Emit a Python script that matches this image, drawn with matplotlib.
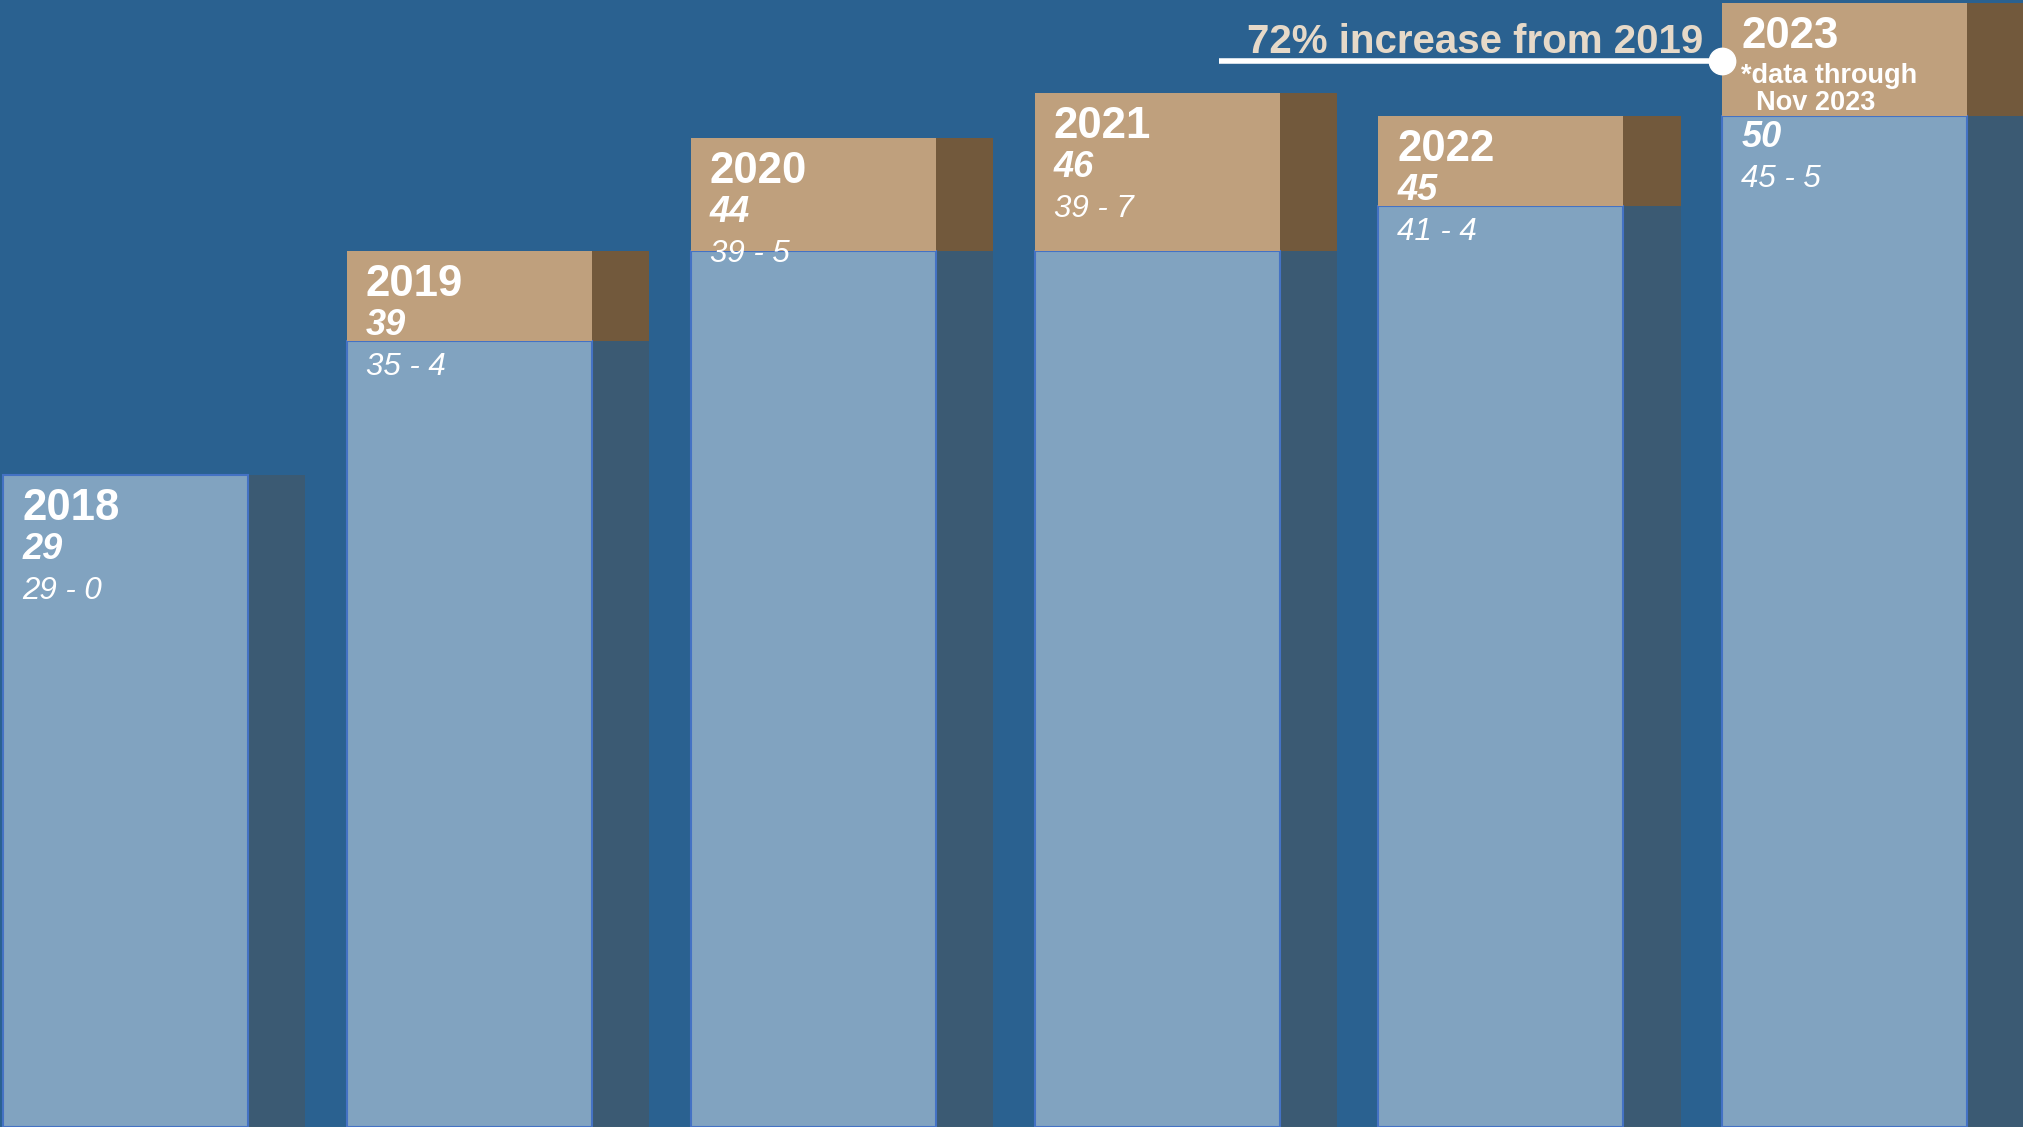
import numpy as np
import matplotlib
matplotlib.use("Agg")
from matplotlib import pyplot as plt

years = ["2018", "2019", "2020", "2021", "2022", "2023"]
base = [29, 35, 39, 39, 41, 45]      # light blue part
added = [0, 4, 5, 7, 4, 5]           # tan part
totals = [29, 39, 44, 46, 45, 50]
notes = [[], [], [], [], [], ["*data through", "  Nov 2023"]]
callout = "72% increase from 2019"

bg = "#2A6190"
light = "#81A3C0"
slate = "#3B5A73"
tan = "#BFA07D"
brown = "#72593C"
edge = "#4472C4"

plt.rcParams["font.family"] = ["Liberation Sans", "DejaVu Sans"]

fig = plt.figure(figsize=(20.23, 11.27), dpi=100)
fig.patch.set_facecolor(bg)
ax = fig.add_axes([0, 0, 1, 1])
ax.set_facecolor(bg)
ax.axis("off")

x = np.arange(len(years))
front_w = 0.713
side_w = 0.166

ax.bar(x + front_w, base, width=side_w, align="edge", color=slate, linewidth=0)
ax.bar(x + front_w, added, bottom=base, width=side_w, align="edge", color=brown, linewidth=0)
ax.bar(x, base, width=front_w, align="edge", color=light, edgecolor=edge, linewidth=1.5)
ax.bar(x, added, bottom=base, width=front_w, align="edge", color=tan, linewidth=0)

ax.set_xlim(-0.009, 5.875)
ax.set_ylim(0, 1127 / 22.47)

for i in range(len(years)):
    top = totals[i]
    dy = 0
    ax.annotate(years[i], (x[i], top), xytext=(19, -45), textcoords="offset pixels",
                color="white", fontsize=31.5, fontweight="bold", va="baseline", ha="left")
    for k, line in enumerate(notes[i]):
        ax.annotate(line, (x[i], top), xytext=(19, -80 - 27 * k), textcoords="offset pixels",
                    color="white", fontsize=19.5, fontweight="bold", va="baseline", ha="left")
    if notes[i]:
        dy = -60
    ax.annotate(str(totals[i]), (x[i], top), xytext=(19, -84 + dy), textcoords="offset pixels",
                color="white", fontsize=26, fontweight="bold", fontstyle="italic",
                va="baseline", ha="left")
    ax.annotate("%d - %d" % (base[i], added[i]), (x[i], top), xytext=(19, -124 + dy),
                textcoords="offset pixels", color="white", fontsize=22.5,
                fontstyle="italic", va="baseline", ha="left")

# callout line to the 2023 bar
ly = totals[-1] - 2.55
ax.plot([3.537, x[-1]], [ly, ly], color="white", lw=4, solid_capstyle="butt")
ax.plot([x[-1]], [ly], "o", color="white", ms=19)
ax.text(4.945, totals[-1] - 2.2, callout, color="#E6D9C8", fontsize=29,
        fontweight="bold", ha="right", va="baseline")

fig.savefig("out.png", dpi=100, facecolor=bg)
